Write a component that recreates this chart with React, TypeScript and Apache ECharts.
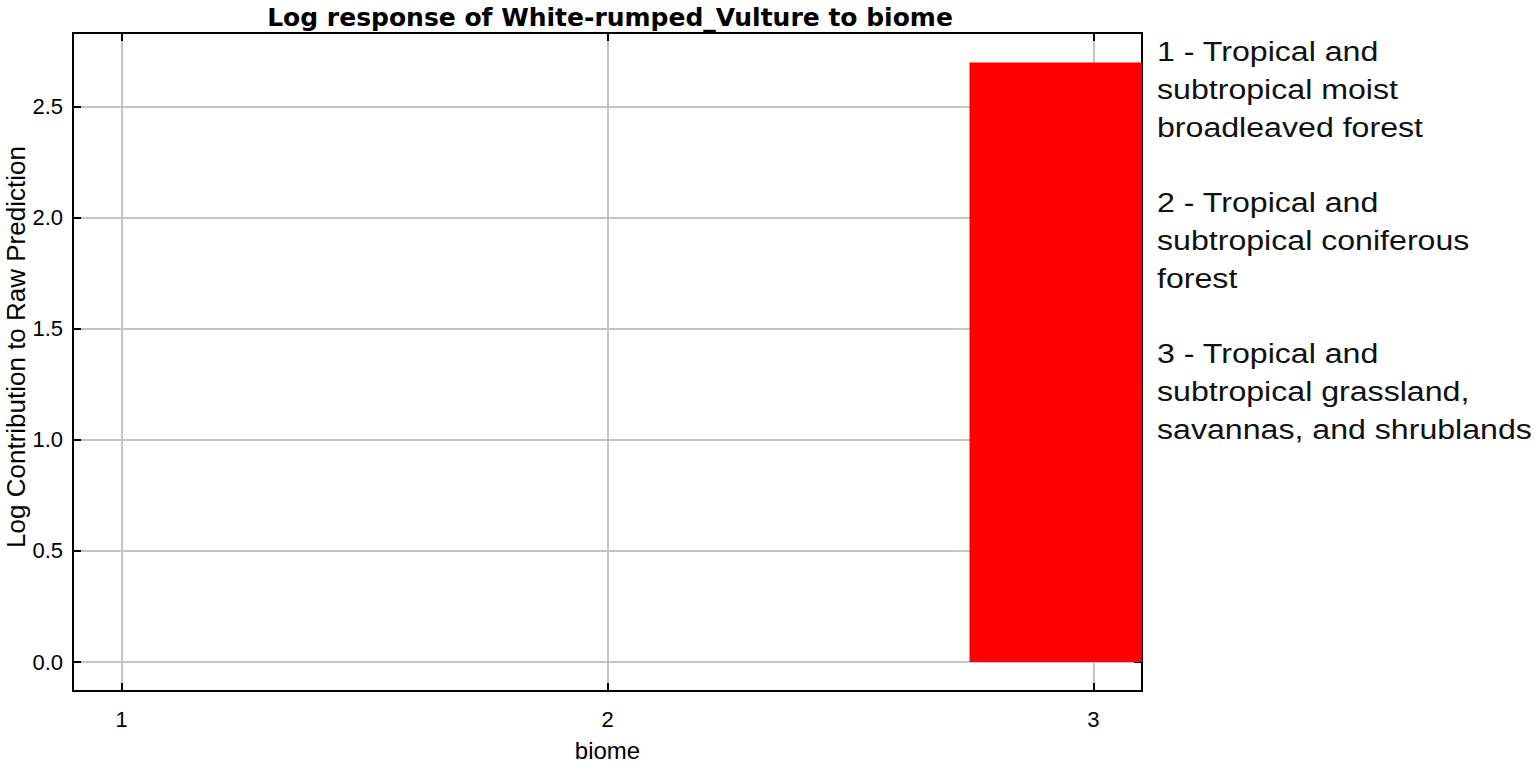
import React, { useEffect, useRef } from "react";
import * as echarts from "echarts";

const biomes = [1, 2, 3];
const contributions = [0, 0, 2.697];
const barWidth = 0.51;
const xTicks = [1, 2, 3];
const yTicks = [0, 0.5, 1.0, 1.5, 2.0, 2.5];
const titleText = "Log response of White-rumped_Vulture to biome";
const xName = "biome";
const yName = "Log Contribution to Raw Prediction";
const legendLines = [
  "1 - Tropical and",
  "subtropical moist",
  "broadleaved forest",
  "",
  "2 - Tropical and",
  "subtropical coniferous",
  "forest",
  "",
  "3 - Tropical and",
  "subtropical grassland,",
  "savannas, and shrublands",
];

const FONT = "'Liberation Sans', Arial, sans-serif";

export default function App() {
  const ref = useRef<HTMLDivElement>(null);
  useEffect(() => {
    const chart = echarts.init(ref.current!, null, { renderer: "svg" });
    const data = biomes.map((b, i) => [b, contributions[i]]);
    const tickStyle = { show: true, inside: true, length: 8, lineStyle: { color: "#000", width: 2 } };
    const lineStyle = { show: true, onZero: false, lineStyle: { color: "#000", width: 2 } };
    chart.setOption({
      animation: false,
      backgroundColor: "#fff",
      title: {
        text: titleText,
        left: 605,
        top: 0,
        textAlign: "center",
        textStyle: { fontFamily: "'DejaVu Sans', sans-serif", fontWeight: "bold", fontSize: 25, color: "#000" },
      },
      grid: {
        left: 73,
        top: 33,
        width: 1069,
        height: 658,
        show: true,
        borderColor: "#000",
        borderWidth: 2,
        backgroundColor: "transparent",
        containLabel: false,
        outerBoundsMode: "none",
      },
      xAxis: [
        {
          type: "value",
          min: 0.9,
          max: 3.1,
          position: "bottom",
          name: xName,
          nameLocation: "middle",
          nameGap: 47,
          nameTextStyle: { fontFamily: FONT, fontSize: 24, color: "#000" },
          axisLine: lineStyle,
          axisTick: { ...tickStyle, customValues: xTicks },
          axisLabel: { customValues: xTicks, fontFamily: FONT, fontSize: 22, color: "#000", margin: 17, formatter: (v: number) => String(v) },
          splitLine: { show: true, lineStyle: { color: "#c4c4c4", width: 2 } },
        },
        {
          type: "value",
          min: 0.9,
          max: 3.1,
          position: "top",
          axisLine: lineStyle,
          axisTick: { ...tickStyle, customValues: xTicks },
          axisLabel: { show: false },
          splitLine: { show: false },
        },
      ],
      yAxis: [
        {
          type: "value",
          min: -0.13,
          max: 2.83,
          position: "left",
          axisLine: lineStyle,
          axisTick: { ...tickStyle, customValues: yTicks },
          axisLabel: { customValues: yTicks, fontFamily: FONT, fontSize: 22, color: "#000", margin: 10, formatter: (v: number) => v.toFixed(1) },
          splitLine: { show: true, lineStyle: { color: "#c4c4c4", width: 2 } },
        },
        {
          type: "value",
          min: -0.13,
          max: 2.83,
          position: "right",
          axisLine: lineStyle,
          axisTick: { ...tickStyle, customValues: [0] },
          axisLabel: { show: false },
          splitLine: { show: false },
        },
      ],
      graphic: [
        {
          type: "text",
          x: 16,
          y: 347,
          rotation: Math.PI / 2,
          style: {
            text: yName,
            fontFamily: FONT,
            fontSize: 26,
            fill: "#000",
            align: "center",
            verticalAlign: "middle",
          },
        },
        {
          type: "text",
          x: 1157,
          y: 33,
          scaleX: 1.19,
          style: {
            text: legendLines.join("\n"),
            fontFamily: FONT,
            fontSize: 27,
            lineHeight: 37.75,
            fill: "#111",
            align: "left",
            verticalAlign: "top",
          },
        },
      ],
      series: [
        {
          type: "custom",
          xAxisIndex: 0,
          yAxisIndex: 0,
          clip: true,
          data,
          renderItem: (params: any, api: any) => {
            const x = api.value(0);
            const y = api.value(1);
            const p0 = api.coord([x - barWidth / 2, 0]);
            const p1 = api.coord([x + barWidth / 2, y]);
            const rect = {
              x: p0[0],
              y: Math.min(p0[1], p1[1]),
              width: p1[0] - p0[0],
              height: Math.abs(p0[1] - p1[1]),
            };
            const clipped = echarts.graphic.clipRectByRect(rect, {
              x: params.coordSys.x,
              y: params.coordSys.y,
              width: params.coordSys.width,
              height: params.coordSys.height,
            });
            if (!clipped || clipped.height <= 0) return null;
            return { type: "rect", shape: clipped, style: { fill: "#ff0000" } };
          },
        },
      ],
    });
    return () => chart.dispose();
  }, []);
  return <div ref={ref} style={{ position: "absolute", left: 0, top: 0, width: 1535, height: 763 }} />;
}
